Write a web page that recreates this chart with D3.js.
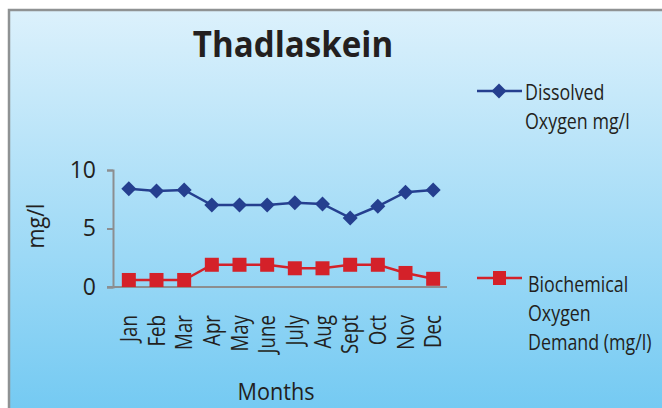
<!DOCTYPE html>
<html>
<head>
<meta charset="utf-8">
<script src="https://cdn.jsdelivr.net/npm/d3@7"></script>
<style>
  body { margin: 0; background: #fff; }
  text { font-family: "Open Sans", "Noto Sans", sans-serif; fill: #231f20; }
</style>
</head>
<body>
<div id="chart"></div>
<script>
var width = 662
var height = 408

var months = ["Jan", "Feb", "Mar", "Apr", "May", "June", "July", "Aug", "Sept", "Oct", "Nov", "Dec"]
var dissolvedOxygen = [8.4, 8.2, 8.3, 7.0, 7.0, 7.0, 7.2, 7.1, 5.9, 6.9, 8.1, 8.3]
var bod = [0.6, 0.6, 0.6, 1.9, 1.9, 1.9, 1.6, 1.6, 1.9, 1.9, 1.2, 0.7]
var yTicks = [0, 5, 10]

var svg = d3.select("#chart")
  .append("svg")
    .attr("width", width)
    .attr("height", height)

var defs = svg.append("defs")
var grad = defs.append("linearGradient")
  .attr("id", "bg")
  .attr("x1", 0).attr("y1", 0).attr("x2", 0).attr("y2", 1)
grad.append("stop").attr("offset", "0%").attr("stop-color", "#dcf1fc")
grad.append("stop").attr("offset", "100%").attr("stop-color", "#72c9f2")

// frame
svg.append("rect")
  .attr("x", 9).attr("y", 10)
  .attr("width", width).attr("height", height)
  .attr("fill", "url(#bg)")
  .attr("stroke", "#8f9293")
  .attr("stroke-width", 2.5)

var x = d3.scaleBand()
  .domain(months)
  .range([115, 447])

var y = d3.scaleLinear()
  .domain([0, 10])
  .range([287, 170])

var cx = function(i) { return x(months[i]) + x.bandwidth() / 2 }

var axisColor = "#8c8e90"
var narrow = 0.78  // the original font is a condensed one

// y axis
var yAxis = svg.append("g")
  .attr("transform", "translate(113,0)")
  .call(d3.axisLeft(y).tickValues(yTicks).tickSize(6).tickPadding(11))
yAxis.select(".domain").attr("stroke", axisColor).attr("stroke-width", 2)
yAxis.selectAll(".tick line").attr("stroke", axisColor).attr("stroke-width", 2)
yAxis.selectAll(".tick text")
  .style("font-size", "23px")
  .style("font-family", "'Open Sans', sans-serif")
  .attr("fill", "#231f20")

// x axis line
svg.append("line")
  .attr("x1", 107).attr("x2", 447)
  .attr("y1", y(0)).attr("y2", y(0))
  .attr("stroke", axisColor)
  .attr("stroke-width", 2)

// month labels
svg.append("g")
  .selectAll("text")
  .data(months)
  .enter()
  .append("text")
    .attr("transform", function(d, i) {
      return "translate(" + (cx(i) + 8) + ",315) rotate(-90) scale(" + narrow + ",1)"
    })
    .attr("text-anchor", "end")
    .style("font-size", "24px")
    .text(function(d) { return d })

var line = d3.line()
  .x(function(d, i) { return cx(i) })
  .y(function(d) { return y(d) })

var blue = "#253f8f"
var red = "#d42129"
var diamond = "M0,-7.5L7.5,0L0,7.5L-7.5,0Z"

// dissolved oxygen
svg.append("path")
  .datum(dissolvedOxygen)
  .attr("d", line)
  .attr("fill", "none")
  .attr("stroke", blue)
  .attr("stroke-width", 2.5)

svg.append("g")
  .selectAll("path")
  .data(dissolvedOxygen)
  .enter()
  .append("path")
    .attr("d", diamond)
    .attr("transform", function(d, i) { return "translate(" + cx(i) + "," + y(d) + ")" })
    .attr("fill", blue)

// bod
svg.append("path")
  .datum(bod)
  .attr("d", line)
  .attr("fill", "none")
  .attr("stroke", red)
  .attr("stroke-width", 2.5)

svg.append("g")
  .selectAll("rect")
  .data(bod)
  .enter()
  .append("rect")
    .attr("x", function(d, i) { return cx(i) - 7 })
    .attr("y", function(d) { return y(d) - 7 })
    .attr("width", 14)
    .attr("height", 14)
    .attr("fill", red)

// title
svg.append("text")
  .attr("transform", "translate(293,57) scale(0.92,1)")
  .attr("text-anchor", "middle")
  .style("font-size", "36px")
  .style("font-weight", "bold")
  .text("Thadlaskein")

// axis titles
svg.append("text")
  .attr("transform", "translate(44,226) rotate(-90) scale(0.9,1)")
  .attr("text-anchor", "middle")
  .style("font-size", "24px")
  .text("mg/l")

svg.append("text")
  .attr("transform", "translate(276,400) scale(0.9,1)")
  .attr("text-anchor", "middle")
  .style("font-size", "24px")
  .text("Months")

// legend
var legend = [
  { name: ["Dissolved", "Oxygen mg/l"], color: blue, shape: "diamond", y: 91, tx: 525, ty: 100 },
  { name: ["Biochemical", "Oxygen", "Demand (mg/l)"], color: red, shape: "square", y: 278, tx: 528, ty: 292 }
]

legend.forEach(function(l) {
  var g = svg.append("g")
  g.append("line")
    .attr("x1", 477).attr("x2", 522)
    .attr("y1", l.y).attr("y2", l.y)
    .attr("stroke", l.color)
    .attr("stroke-width", 2.5)
  if (l.shape == "diamond") {
    g.append("path")
      .attr("d", diamond)
      .attr("transform", "translate(499," + l.y + ")")
      .attr("fill", l.color)
  } else {
    g.append("rect")
      .attr("x", 493).attr("y", l.y - 7)
      .attr("width", 13).attr("height", 14)
      .attr("fill", l.color)
  }
  l.name.forEach(function(t, i) {
    g.append("text")
      .attr("transform", "translate(" + l.tx + "," + (l.ty + i * 29) + ") scale(0.85,1)")
      .style("font-size", "21px")
      .text(t)
  })
})
</script>
</body>
</html>
